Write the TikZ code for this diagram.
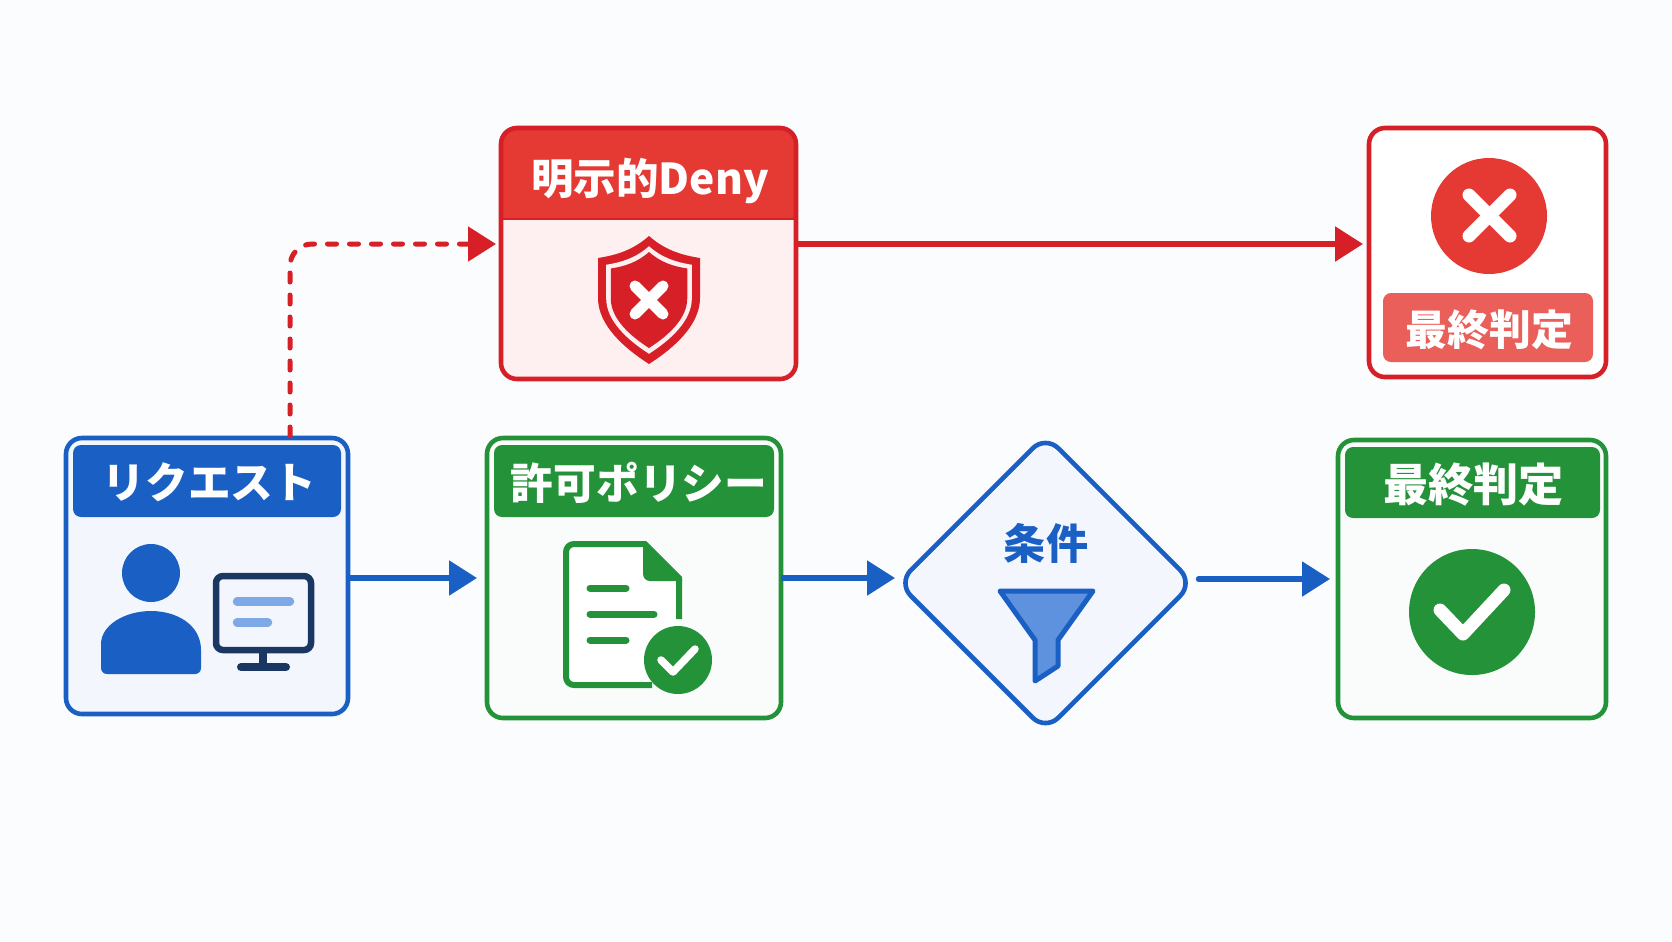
\documentclass[tikz,border=0pt]{standalone}
\usepackage{fontspec}
\setmainfont{Noto Sans CJK JP}
\usetikzlibrary{arrows.meta,shapes.geometric}
\definecolor{pagebg}{HTML}{FAFCFE}
\definecolor{reqblue}{HTML}{1A60C4}
\definecolor{reqfill}{HTML}{F3F7FD}
\definecolor{navy}{HTML}{1A3764}
\definecolor{barblue}{HTML}{7FA9E6}
\definecolor{funnelblue}{HTML}{5F92DE}
\definecolor{okgreen}{HTML}{249239}
\definecolor{okfill}{HTML}{F9FCFA}
\definecolor{denyred}{HTML}{D61F26}
\definecolor{headred}{HTML}{E53A34}
\definecolor{denyfill}{HTML}{FEEFF0}
\definecolor{badgered}{HTML}{EA5F5A}
\def\px{.02cm}
\def\shieldshape{(0,-64) .. controls (-16,-50) and (-32,-45) .. (-51,-42) -- (-51,-2) .. controls (-51,25) and (-25,48) .. (0,64) .. controls (25,48) and (51,25) .. (51,-2) -- (51,-42) .. controls (32,-45) and (16,-50) .. (0,-64) -- cycle}

\begin{document}
\begin{tikzpicture}[x=.02cm,y=-.02cm]
  \tikzset{box/.style={draw,line width=4.6*\px,rounded corners=16*\px,inner sep=0pt,outer sep=0pt},
    header/.style={rounded corners=8*\px,inner sep=0pt,outer sep=0pt,text=white,font=\fontsize{24.3}{28}\selectfont\bfseries},
    flow/.style={line width=5.5*\px,-{Triangle[length=.56cm,width=.68cm]}},
    icon/.style={line cap=round,line join=round}}

  \path[fill=pagebg,use as bounding box] (0,0) rectangle (1672,941);

  \node[box,draw=reqblue,fill=reqfill,minimum width=282*\px,minimum height=276*\px] at (207,576) (request) {};
  \node[header,fill=reqblue,minimum width=268*\px,minimum height=72*\px,text depth=0pt,text width=268*\px,align=center] at (207,481) (reqtitle) {\hspace*{.1cm}リクエスト};
  \fill[reqblue] (151,573) circle (29);
  \fill[reqblue] (101,650) .. controls (101,625) and (125,611) .. (151,611) .. controls (177,611) and (201,625) .. (201,650) [rounded corners=6*\px] -- (201,674) -- (101,674) -- cycle;
  \draw[navy,line width=6.5*\px,rounded corners=7*\px,fill=reqfill] (216,576) rectangle (311,650);
  \draw[navy,line width=8*\px] (263,653) -- (263,665);
  \draw[navy,icon,line width=8*\px] (241,667) -- (286,667);
  \draw[barblue,icon,line width=8.5*\px] (237,601.5) -- (290,601.5);
  \draw[barblue,icon,line width=8.5*\px] (237,622.5) -- (268,622.5);

  \node[box,draw=okgreen,fill=okfill,minimum width=294*\px,minimum height=280*\px] at (634,578) (permit) {};
  \node[header,fill=okgreen,minimum width=280*\px,minimum height=72*\px,text depth=0pt,text width=280*\px,align=center] at (634,481) (permittitle) {\hspace*{.2cm}許可ポリシー};
  \fill[white] (566,544) -- (645,544) -- (679,578) -- (679,685) -- (566,685) -- cycle;
  \draw[okgreen,line width=6*\px] (652,685) [rounded corners=8*\px] -- (566,685) -- (566,544) [sharp corners] -- (645,544) -- (679,578) -- (679,619);
  \fill[okgreen,rounded corners=2*\px] (643,542) -- (682,579) -- (682,581) -- (651,581) [rounded corners=7*\px] -- (643,581) [rounded corners=2*\px] -- cycle;
  \draw[okgreen,icon,line width=7*\px] (590,588) -- (626,588);
  \draw[okgreen,icon,line width=7*\px] (590,614) -- (654,614);
  \draw[okgreen,icon,line width=7*\px] (590,640) -- (626,640);
  \fill[okgreen] (678,660) circle (34);
  \draw[white,icon,line width=7.5*\px] (661,660) -- (673,672) -- (695,649);

  \node[diamond,box,aspect=1,draw=reqblue,fill=reqfill,rounded corners=18*\px,minimum width=295*\px,minimum height=295*\px] at (1045.5,583) (cond) {};
  \node[text=reqblue,inner sep=0pt,font=\fontsize{24}{28}\selectfont\bfseries] at (1046,543) (condtitle) {条件};
  \draw[reqblue,icon,line width=5*\px,fill=funnelblue] (1000,591) -- (1093,591) -- (1058,640) -- (1058,666) -- (1035,681) -- (1035,640) -- cycle;

  \node[box,draw=okgreen,fill=okfill,minimum width=268*\px,minimum height=278*\px] at (1472,579) (allow) {};
  \node[header,fill=okgreen,minimum width=255*\px,minimum height=71*\px,font=\fontsize{25.7}{30}\selectfont\bfseries,text depth=0pt,text width=255*\px,align=center] at (1472.5,482.5) (allowtitle) {\hspace*{.04cm}最終判定};
  \fill[okgreen] (1472,612) circle (63);
  \draw[white,icon,line width=13*\px] (1440,610) -- (1463,634) -- (1504,590);

  \node[minimum width=295*\px,minimum height=251*\px,fill=denyfill,rounded corners=16*\px,inner sep=0pt,outer sep=0pt] at (648.5,253.5) (deny) {};
  \fill[headred] (501,219) [rounded corners=16*\px] |- (796,128) [sharp corners] |- cycle;
  \draw[denyred,line width=1.5*\px] (501,219) -- (796,219);
  \draw[denyred,line width=4.6*\px,rounded corners=16*\px] (deny.south west) rectangle (deny.north east);
  \node[inner sep=0pt,text=white,font=\fontsize{24.2}{28}\selectfont\bfseries] at (650,181) (denytitle) {明示的Deny};
  \begin{scope}[shift={(649,300)}]
    \fill[denyred] \shieldshape;
    \fill[denyfill,scale=.84] \shieldshape;
    \fill[denyred,scale=.75] \shieldshape;
    \draw[white,icon,line width=11*\px] (-14,-14) -- (14,14);
    \draw[white,icon,line width=11*\px] (-14,14) -- (14,-14);
  \end{scope}

  \node[box,draw=denyred,fill=white,minimum width=237*\px,minimum height=249*\px] at (1487.5,252.5) (reject) {};
  \fill[headred] (1489,216) circle (58);
  \draw[white,icon,line width=13*\px] (1469,195) -- (1510,236);
  \draw[white,icon,line width=13*\px] (1469,236) -- (1510,195);
  \node[header,fill=badgered,minimum width=210*\px,minimum height=69*\px,font=\fontsize{23.8}{28}\selectfont\bfseries,text depth=0pt,text width=210*\px,align=center] at (1488,327.5) (rejecttitle) {\hspace*{.06cm}最終判定};

  \coordinate (redline) at (0,244);
  \coordinate (dashstart) at (290,436);
  \draw[flow,draw=reqblue,shorten >=10*\px] (request.east |- permit.west) -- (permit.west);
  \draw[flow,draw=reqblue,shorten >=3*\px] (permit.east) -- (permit.east -| cond.west);
  \draw[flow,draw=reqblue,line cap=round,shorten <=5.5*\px,shorten >=8*\px] (cond.east |- allow.west) -- (allow.west);
  \draw[flow,draw=denyred] (redline -| deny.east) -- ([xshift=-6*\px]redline -| reject.west);
  \draw[flow,draw=denyred,line width=5*\px,rounded corners=22*\px,line cap=round,dash pattern=on 9*\px off 13*\px] (dashstart) |- ([xshift=-5*\px]redline -| deny.west);
\end{tikzpicture}
\end{document}
